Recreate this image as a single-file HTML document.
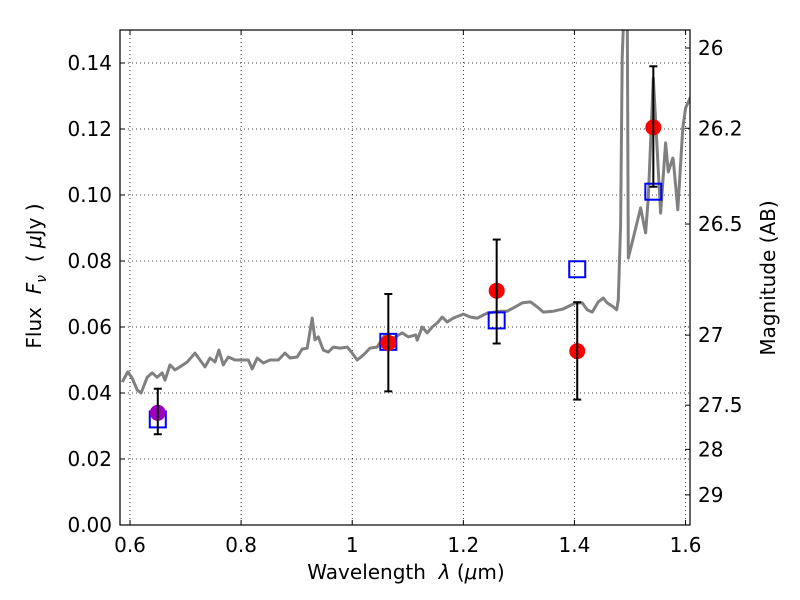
<!DOCTYPE html>
<html><head><meta charset="utf-8"><style>
html,body{margin:0;background:#fff;width:800px;height:600px;overflow:hidden;}
svg{font-family:"DejaVu Sans","Liberation Sans",sans-serif;display:block;}
</style></head><body>
<svg id="c" width="800" height="600"></svg>
<script>
const lam=[0.586,0.596,0.604,0.613,0.620,0.631,0.640,0.649,0.658,0.663,0.672,0.681,0.690,0.703,0.717,0.726,0.735,0.744,0.753,0.760,0.768,0.777,0.789,0.802,0.813,0.820,0.829,0.840,0.852,0.867,0.879,0.888,0.901,0.910,0.919,0.928,0.933,0.939,0.948,0.957,0.966,0.978,0.991,1.000,1.009,1.020,1.032,1.045,1.059,1.074,1.090,1.101,1.114,1.117,1.126,1.135,1.144,1.153,1.162,1.171,1.182,1.200,1.213,1.225,1.243,1.267,1.279,1.290,1.306,1.321,1.333,1.344,1.362,1.380,1.402,1.414,1.423,1.432,1.443,1.452,1.459,1.470,1.476,1.479,1.483,1.486,1.490,1.495,1.497,1.506,1.519,1.528,1.533,1.542,1.555,1.564,1.569,1.577,1.578,1.586,1.595,1.600,1.609];
const flux=[0.0433,0.0464,0.0445,0.0409,0.0400,0.0448,0.0461,0.0448,0.0461,0.0439,0.0485,0.0470,0.0479,0.0494,0.0521,0.0500,0.0479,0.0506,0.0494,0.0530,0.0485,0.0509,0.0500,0.0500,0.0500,0.0473,0.0506,0.0491,0.0500,0.0500,0.0521,0.0506,0.0509,0.0533,0.0536,0.0627,0.0561,0.0570,0.0530,0.0524,0.0539,0.0536,0.0539,0.0521,0.0500,0.0515,0.0536,0.0539,0.0576,0.0567,0.0582,0.0570,0.0576,0.0560,0.0600,0.0582,0.0600,0.0612,0.0630,0.0615,0.0627,0.0639,0.0630,0.0627,0.0642,0.0648,0.0648,0.0658,0.0673,0.0676,0.0661,0.0645,0.0648,0.0655,0.0673,0.0673,0.0652,0.0645,0.0676,0.0688,0.0673,0.0661,0.0652,0.0682,0.0909,0.1415,0.16,0.16,0.0809,0.0870,0.0961,0.0885,0.0991,0.1355,0.0945,0.1158,0.1070,0.1112,0.1106,0.0955,0.1203,0.1264,0.1297];
const obsLam=[0.650,1.065,1.260,1.405,1.542];
const obsFlux=[0.0340,0.0552,0.0710,0.0527,0.1205];
const obsLo=[0.0275,0.0405,0.0550,0.0380,0.1025];
const obsHi=[0.0413,0.0700,0.0865,0.0675,0.1390];
const obsColor=['#a000c0','red','red','red','red'];
const modLam=[0.650,1.065,1.260,1.405,1.542];
const modFlux=[0.0320,0.0555,0.0620,0.0775,0.1010];
const xTicks=[0.6,0.8,1.0,1.2,1.4,1.6];
const xTickLabels=['0.6','0.8','1','1.2','1.4','1.6'];
const yTicks=[0,0.02,0.04,0.06,0.08,0.10,0.12,0.14];
const yTickLabels=['0.00','0.02','0.04','0.06','0.08','0.10','0.12','0.14'];
const magTicks=[26,26.2,26.5,27,27.5,28,29];
const magTickLabels=['26','26.2','26.5','27','27.5','28','29'];

const L=120,R=690,T=30,B=525,X0=0.582,X1=1.608,Y0=0,Y1=0.15;
const sx=v=>L+(v-X0)/(X1-X0)*(R-L);
const sy=v=>B-(v-Y0)/(Y1-Y0)*(B-T);
const NS='http://www.w3.org/2000/svg';
const svg=document.getElementById('c');
function mk(tag,a,parent){const e=document.createElementNS(NS,tag);for(const k in a)e.setAttribute(k,a[k]);(parent||svg).appendChild(e);return e;}
const defs=mk('defs',{});const cp=mk('clipPath',{id:'clip'},defs);mk('rect',{x:L,y:T,width:R-L,height:B-T},cp);

xTicks.forEach((t,i)=>{const x=sx(t);
 const g=mk('line',{x1:x,x2:x,y1:T,y2:B,stroke:'#000','stroke-width':0.8,'stroke-dasharray':'1,3'});
 
 
 mk('line',{x1:x,x2:x,y1:B,y2:B-5,stroke:'#000'});mk('line',{x1:x,x2:x,y1:T,y2:T+5,stroke:'#000'});
 const tx=mk('text',{x:x,y:B+27,'text-anchor':'middle','font-size':20});tx.textContent=xTickLabels[i];
 
 
});
yTicks.forEach((t,i)=>{const y=sy(t);
 const g=mk('line',{x1:L,x2:R,y1:y,y2:y,stroke:'#000','stroke-width':0.8,'stroke-dasharray':'1,3'});
 
 
 mk('line',{x1:L,x2:L+5,y1:y,y2:y,stroke:'#000'});
 const tx=mk('text',{x:L-8,y:y+7,'text-anchor':'end','font-size':20});tx.textContent=yTickLabels[i];
 
 
});
magTicks.forEach((m,i)=>{const y=sy(Math.pow(10,(23.9-m)/2.5));
 mk('line',{x1:R,x2:R-5,y1:y,y2:y,stroke:'#000'});
 const tx=mk('text',{x:R+8,y:y+7,'font-size':20});tx.textContent=magTickLabels[i];
 
 
});
const pts=lam.map((l,i)=>sx(l).toFixed(1)+','+sy(flux[i]).toFixed(1)).join(' ');
const sp=mk('polyline',{points:pts,fill:'none',stroke:'#808080','stroke-width':3,'stroke-linejoin':'round','clip-path':'url(#clip)'});


modLam.forEach((l,i)=>{const s=mk('rect',{x:sx(l)-8,y:sy(modFlux[i])-8,width:16,height:16,fill:'none',stroke:'#0000ff','stroke-width':2});
 
 
});
obsLam.forEach((l,i)=>{const x=sx(l);
 const c=mk('circle',{cx:x,cy:sy(obsFlux[i]),r:8,fill:obsColor[i]});
 
 
 const e=mk('g',{stroke:'#000','stroke-width':2});
 
 
 mk('line',{x1:x,x2:x,y1:sy(obsLo[i]),y2:sy(obsHi[i])},e);
 mk('line',{x1:x-4,x2:x+4,y1:sy(obsLo[i]),y2:sy(obsLo[i])},e);
 mk('line',{x1:x-4,x2:x+4,y1:sy(obsHi[i]),y2:sy(obsHi[i])},e);
});
const fr=mk('rect',{x:L,y:T,width:R-L,height:B-T,fill:'none',stroke:'#000','stroke-width':1.2});


</script>
<div style="position:absolute;left:0;top:0;width:800px;height:600px;pointer-events:none;font-family:'DejaVu Sans','Liberation Sans',sans-serif;">
 <div style="position:absolute;left:0;width:812px;top:560px;text-align:center;font-size:20px;">Wavelength&nbsp; <i>λ</i> (<i>μ</i>m)</div>
 <div style="position:absolute;left:36px;top:276px;width:0;height:0;"><div style="position:absolute;transform:translate(-50%,-50%) rotate(-90deg);white-space:nowrap;font-size:20px;">Flux&nbsp; <i>F<sub style="font-size:14px">ν</sub></i>&nbsp; (&nbsp;<i>μ</i>Jy&nbsp;)</div></div>
 <div style="position:absolute;left:768px;top:278px;width:0;height:0;"><div style="position:absolute;transform:translate(-50%,-50%) rotate(-90deg);white-space:nowrap;font-size:20px;">Magnitude (AB)</div></div>
</div>
</body></html>
